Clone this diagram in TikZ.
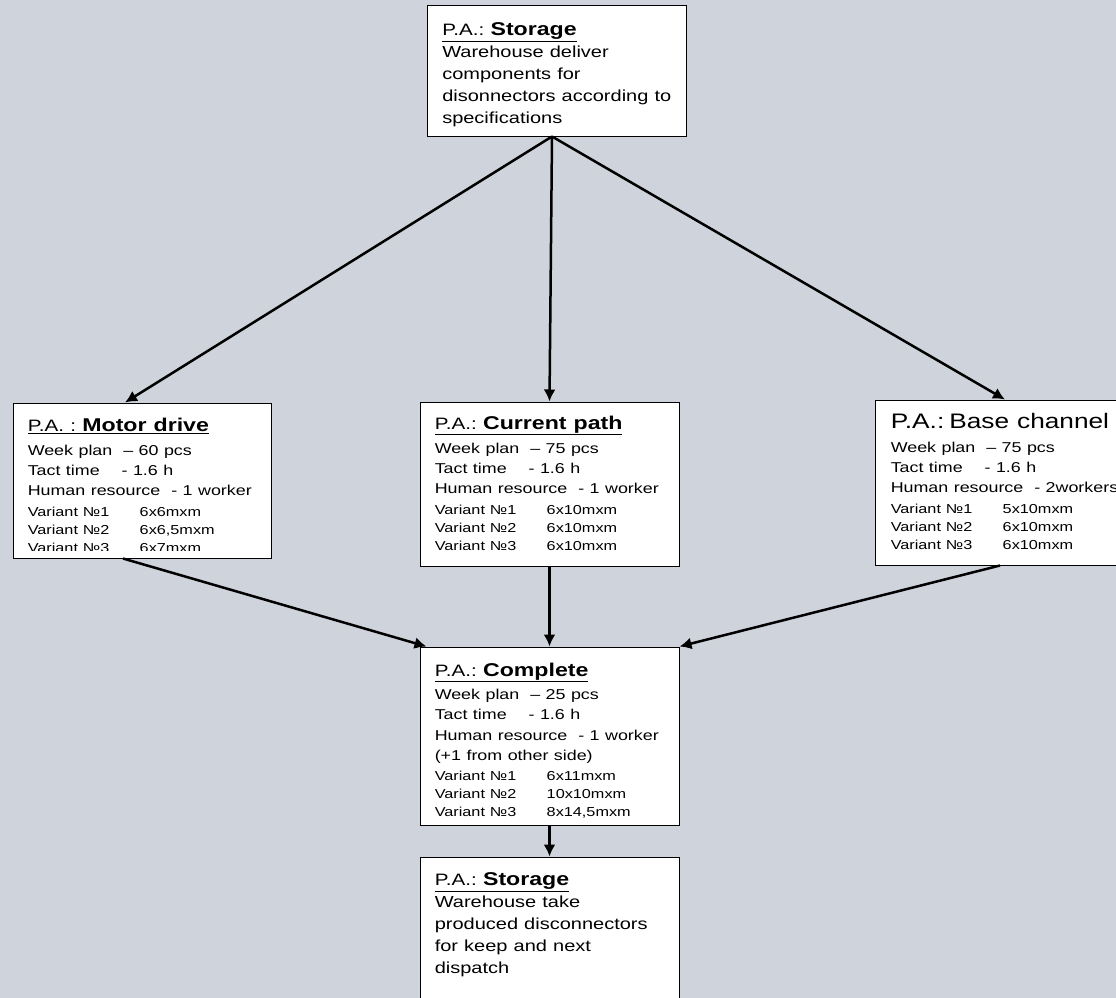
\documentclass[tikz,border=0pt]{standalone}
\usepackage{fontspec}
\setmainfont{Liberation Sans}[FakeStretch=1.25, WordSpace=1.1]
\usetikzlibrary{arrows.meta, positioning}
\definecolor{bgcol}{RGB}{207,211,219}
\setlength{\parindent}{0pt}
\tikzstyle{block} = [draw, fill=white, rectangle, line width=1pt, inner sep=0pt]
\tikzstyle{txt} = [anchor=north west, inner sep=0pt, align=left, text width=260pt]
\newcommand{\fs}[2]{\fontsize{#1}{#2}\selectfont\spaceskip=\fontdimen2\font\relax}
\newcommand{\pa}[2]{\underline{{\fs{16.5}{16.5}#1\ }{\bfseries\fs{18.5}{18.5}#2}}\par}
\newcommand{\bline}[2]{{\fs{14.3}{#1}#2\par}}
\newcommand{\varln}[3][18]{{\fs{13}{#1}\makebox[112pt][l]{#2}#3\par}}
\newcommand{\sline}[1]{{\fs{16}{22}#1\par}}

\begin{document}
\begin{tikzpicture}[x=1pt, y=1pt, >={Latex[length=12pt,width=12pt]}, line width=2.5pt]
  \fill[bgcol] (0,0) rectangle (1116,-998);
  \useasboundingbox (0,0) rectangle (1116,-998);

  \node[block, minimum width=259pt, minimum height=130pt] (storein) at (557,-71) {};
  \node[block, minimum width=258pt, minimum height=155pt] (motor) at (142,-480.5) {};
  \node[block, minimum width=259pt, minimum height=164pt] (current) at (549.5,-484) {};
  \node[block, minimum width=250pt, minimum height=165pt] (base) at (1000,-482.5) {};
  \node[block, minimum width=259pt, minimum height=178pt] (complete) at (549.5,-736) {};
  \node[block, minimum width=259pt, minimum height=153pt] (storeout) at (549.5,-933.5) {};

  \node[txt, below right=16pt and 14pt of storein.north west] (storeintxt) {%
    \pa{P.A.:}{Storage}
    \sline{Warehouse deliver}
    \sline{components for}
    \sline{disonnectors according to}
    \sline{specifications}};
  \begin{scope}
    \clip (motor.north west) rectangle ([yshift=8pt]motor.south east);
    \node[txt, below right=14pt and 14pt of motor.north west] (motortxt) {%
      \pa{P.A. :}{Motor drive}
      \bline{24}{Week plan~~– 60 pcs}
      \bline{20}{Tact time~~~~- 1.6 h}
      \bline{20}{Human resource~~- 1 worker}
      \varln[21]{Variant №1}{6x6mxm}
      \varln{Variant №2}{6x6,5mxm}
      \varln{Variant №3}{6x7mxm}};
  \end{scope}
  \node[txt, below right=13pt and 14pt of current.north west] (currenttxt) {%
    \pa{P.A.:}{Current path}
    \bline{24}{Week plan~~– 75 pcs}
    \bline{20}{Tact time~~~~- 1.6 h}
    \bline{20}{Human resource~~- 1 worker}
    \varln[21]{Variant №1}{6x10mxm}
    \varln{Variant №2}{6x10mxm}
    \varln{Variant №3}{6x10mxm}};
  \node[txt, below right=13pt and 15pt of base.north west] (basetxt) {%
    {\fs{21}{21}P.A.: Base channel\par}
    \bline{24}{Week plan~~– 75 pcs}
    \bline{20}{Tact time~~~~- 1.6 h}
    \bline{20}{Human resource~~- 2workers}
    \varln[21]{Variant №1}{5x10mxm}
    \varln{Variant №2}{6x10mxm}
    \varln{Variant №3}{6x10mxm}};
  \begin{scope}
    \clip (complete.north west) rectangle ([yshift=8pt]complete.south east);
    \node[txt, below right=15pt and 14pt of complete.north west] (completetxt) {%
      \pa{P.A.:}{Complete}
      \bline{23}{Week plan~~– 25 pcs}
      \bline{20.5}{Tact time~~~~- 1.6 h}
      \bline{20.5}{Human resource~~- 1 worker}
      \bline{20.5}{(+1 from other side)}
      \varln[20]{Variant №1}{6x11mxm}
      \varln{Variant №2}{10x10mxm}
      \varln{Variant №3}{8x14,5mxm}};
  \end{scope}
  \node[txt, below right=15pt and 14pt of storeout.north west] (storeouttxt) {%
    \pa{P.A.:}{Storage}
    \sline{Warehouse take}
    \sline{produced disconnectors}
    \sline{for keep and next}
    \sline{dispatch}};

  \coordinate (fork) at ([xshift=-5pt]storein.south);
  \draw[->] (fork) -- ([xshift=-17pt]motor.north);
  \draw[->] (fork) -- (current.north);
  \draw[->] (fork) -- ([xshift=5pt]base.north);
  \draw[->] ([xshift=-19pt]motor.south) -- ([xshift=7pt]complete.north west);
  \draw[->] (current.south) -- (complete.north);
  \draw[->] (base.south) -- (complete.north east);
  \draw[->] (complete.south) -- (storeout.north);
\end{tikzpicture}
\end{document}
